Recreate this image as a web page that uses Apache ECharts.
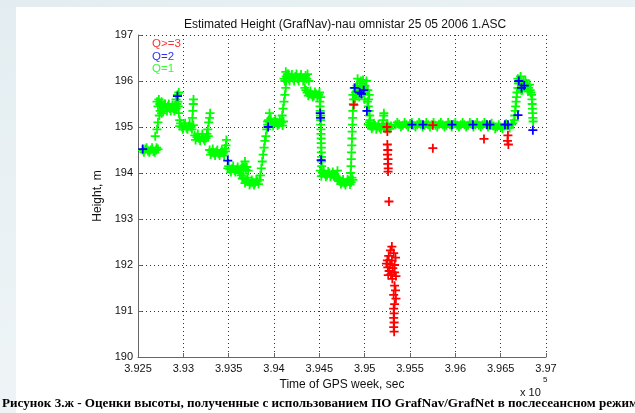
<!DOCTYPE html>
<html>
<head>
<meta charset="utf-8">
<script src="https://cdn.jsdelivr.net/npm/echarts@6/dist/echarts.min.js"></script>
<style>
  html, body { margin: 0; padding: 0; }
  body { width: 635px; height: 413px; position: relative; overflow: hidden;
         background: linear-gradient(160deg, #e3edf1 0%, #eef4f6 60%, #e6eff3 100%); }
  #panel { position: absolute; left: 16px; top: 7px; width: 619px; height: 406px; background: #ffffff; }
  #chart { position: absolute; left: 0; top: 0; width: 635px; height: 413px; }
</style>
</head>
<body>
<div id="panel"></div>
<div id="chart"></div>
<script>
// Time of GPS week (s) and estimated height (m), grouped by solution quality
const titleText = 'Estimated Height (GrafNav)-nau omnistar 25 05 2006 1.ASC';
const xAxisName = 'Time of GPS week, sec';
const yAxisName = 'Height, m';
const qualityLabels = ['Q>=3', 'Q=2', 'Q=1'];
const captionText = 'Рисунок 3.ж - Оценки высоты, полученные с использованием ПО GrafNav/GrafNet в послесеансном режиме';

// Q=1 (green)
const heightQ1 = [
  // 194.5 m block
  [392550,194.5],[392580,194.52],[392610,194.48],[392640,194.5],[392670,194.47],[392700,194.5],[392720,194.52],
  [392565,194.45],[392595,194.55],[392625,194.45],[392655,194.55],[392685,194.45],[392705,194.55],
  [392690,194.8],[392710,194.95],[392720,195.1],[392735,195.25],[392745,195.35],
  // 195.45 m block
  [392710,195.55],[392730,195.6],[392750,195.5],[392770,195.45],[392790,195.5],[392810,195.42],[392830,195.45],
  [392850,195.4],[392870,195.43],[392890,195.4],[392910,195.45],[392930,195.5],[392945,195.45],
  [392720,195.45],[392740,195.5],[392760,195.55],[392780,195.4],[392800,195.5],[392820,195.35],[392840,195.5],
  [392860,195.35],[392880,195.48],[392900,195.35],[392920,195.4],[392940,195.55],
  [392760,195.3],[392780,195.35],
  [392920,195.6],[392935,195.7],[392950,195.75],[392950,195.3],[392960,195.15],
  // 195.0 m block
  [392960,195.02],[392985,195.0],[393010,195.03],[393035,194.98],[393060,195.02],[393085,195.0],[393110,195.04],
  [392970,195.08],[392995,194.95],[393020,195.08],[393045,194.95],[393070,195.08],[393095,194.95],
  [393100,195.2],[393105,195.35],[393110,195.5],[393112,195.6],
  // 194.78 m block
  [393125,194.82],[393150,194.78],[393175,194.75],[393200,194.78],[393225,194.74],[393250,194.76],[393275,194.8],
  [393135,194.72],[393160,194.85],[393185,194.7],[393210,194.85],[393235,194.7],[393260,194.85],
  [393270,194.95],[393280,195.1],[393290,195.2],[393295,195.3],
  // 194.45 m block
  [393290,194.5],[393315,194.45],[393340,194.43],[393365,194.46],[393390,194.42],[393415,194.45],[393440,194.44],[393465,194.47],
  [393300,194.4],[393325,194.52],[393350,194.38],[393375,194.5],[393400,194.38],[393425,194.5],[393450,194.38],[393460,194.53],
  [393470,194.6],[393475,194.72],
  // 194.08 m block
  [393490,194.1],[393515,194.08],[393540,194.1],[393565,194.06],[393590,194.08],[393615,194.05],[393640,194.1],
  [393665,194.12],[393690,194.07],[393715,194.05],[393680,194.25],
  [393500,194.15],[393525,194.02],[393550,194.15],[393575,194.02],[393600,194.13],[393625,194.0],[393650,194.15],[393700,194.13],
  // 193.83 m block
  [393640,193.95],[393665,193.9],[393690,193.85],[393715,193.82],[393740,193.78],[393765,193.8],[393790,193.78],
  [393815,193.82],[393840,193.85],
  [393650,193.88],[393680,193.78],[393705,193.9],[393730,193.74],[393755,193.85],[393780,193.74],[393805,193.86],[393830,193.76],
  [393850,193.95],[393860,194.1],[393870,194.25],[393880,194.4],[393890,194.55],[393900,194.7],[393910,194.8],
  [393920,194.95],[393930,195.05],[393940,195.15],
  // 195.1 m block
  [393930,195.12],[393955,195.1],[393980,195.08],[394005,195.12],[394030,195.1],[394055,195.06],[394080,195.1],
  [394105,195.12],[393950,195.3],
  [393940,195.05],[393965,195.18],[393990,195.02],[394015,195.17],[394040,195.03],[394065,195.15],[394095,195.03],
  [394090,195.25],[394100,195.4],[394110,195.55],[394120,195.7],[394130,195.85],[394135,196.0],
  // 196.07 m block
  [394110,196.05],[394135,196.1],[394160,196.05],[394185,196.08],[394210,196.06],[394235,196.1],[394260,196.05],
  [394285,196.08],[394310,196.07],[394335,196.05],[394360,196.05],[394385,196.0],
  [394120,196.0],[394148,196.15],[394172,196.0],[394198,196.14],[394222,196.0],[394248,196.15],[394272,196.0],
  [394298,196.14],[394322,196.0],[394348,196.12],
  [394130,196.2],[394160,196.15],[394370,196.15],
  // 195.72 m block
  [394340,195.85],[394365,195.75],[394390,195.72],[394415,195.7],[394440,195.68],[394465,195.72],[394490,195.7],[394515,195.65],
  [394352,195.8],[394378,195.68],[394402,195.78],[394428,195.65],[394452,195.76],[394478,195.65],[394502,195.75],
  [394505,195.55],[394508,195.45],[394510,195.35],[394512,195.25],[394515,195.15],[394515,195.05],[394518,194.95],
  [394518,194.85],[394520,194.75],[394520,194.65],[394522,194.55],[394522,194.45],[394524,194.35],[394524,194.25],[394526,194.15],
  // 193.97 m block
  [394510,194.05],[394535,194.0],[394560,193.98],[394585,193.95],[394610,194.0],[394635,193.97],[394660,193.95],
  [394685,193.93],[394700,194.05],
  [394522,193.93],[394548,194.05],[394572,193.92],[394598,194.03],[394622,193.92],[394648,194.02],[394672,193.9],
  // 193.82 m block
  [394700,193.85],[394725,193.82],[394750,193.8],[394775,193.78],[394800,193.8],[394825,193.83],[394850,193.8],[394870,193.85],
  [394712,193.9],[394738,193.76],[394762,193.86],[394788,193.74],[394812,193.86],[394838,193.75],[394860,193.9],
  [394845,194.0],[394850,194.15],[394852,194.3],[394855,194.45],[394858,194.6],[394860,194.75],[394862,194.9],
  [394865,195.05],[394868,195.2],[394870,195.35],[394875,195.5],
  // 195.8 m cluster
  [394870,195.7],[394885,195.85],[394900,195.75],[394915,195.9],[394930,195.8],[394945,195.95],[394960,196.0],
  [394975,195.85],[394990,195.75],[395005,195.9],[395020,196.0],[395035,195.8],[395050,195.7],[394895,195.6],[394940,195.65],
  [394878,195.6],[394908,195.7],[394922,196.05],[394952,195.85],[394968,195.9],[394982,196.02],[394998,195.6],[395012,195.8],[395042,195.6],
  [395030,195.55],[395040,195.45],[395050,195.35],[395055,195.25],[395060,195.15],
  // 195.02 m block
  [395040,195.05],[395065,195.02],[395090,195.0],[395115,195.03],[395140,195.0],[395165,194.98],[395190,195.02],
  [395215,195.0],[395240,195.03],[395265,195.0],[395290,195.02],
  [395052,195.1],[395078,194.96],[395102,195.08],[395128,194.95],[395152,195.06],[395178,194.95],[395202,195.07],
  [395228,194.96],[395252,195.07],[395278,194.96],
  [395205,195.15],[395210,195.25],[395212,195.3],
  // long 195.05 m block
  [395340,195.05],[395380,195.06],[395420,195.04],[395460,195.05],[395500,195.07],[395540,195.04],[395580,195.05],
  [395620,195.06],[395660,195.04],[395700,195.05],[395740,195.05],[395780,195.04],[395820,195.06],[395860,195.05],
  [395900,195.04],[395940,195.05],[395980,195.06],[396020,195.04],[396060,195.05],[396100,195.05],[396140,195.04],
  [396180,195.06],[396220,195.05],[396260,195.04],[396300,195.05],[396340,195.06],[396380,195.04],[396420,195.02],
  [396460,195.0],[396500,195.0],[396540,195.02],[396580,195.03],[396620,195.05],
  [395360,195.1],[395400,195.0],[395440,195.1],[395480,195.0],[395520,195.1],[395560,195.0],[395600,195.1],
  [395640,195.0],[395680,195.1],[395720,195.0],[395760,195.1],[395800,195.0],[395840,195.1],[395880,195.0],
  [395920,195.1],[395960,195.0],[396000,195.1],[396040,195.0],[396080,195.1],[396120,195.0],[396160,195.1],
  [396200,195.0],[396240,195.1],[396280,195.0],[396320,195.1],[396360,195.0],[396400,195.08],[396440,194.96],
  [396480,195.05],[396520,194.96],[396560,195.07],[396600,194.98],[396635,195.08],
  [396650,195.15],[396655,195.25],[396660,195.35],[396665,195.45],[396670,195.55],[396675,195.65],[396680,195.75],
  [396690,195.85],[396695,195.95],
  // 195.9 m cluster
  [396690,196.05],[396705,195.95],[396720,196.1],[396735,195.9],[396750,196.0],[396765,195.85],[396780,195.95],
  [396795,195.9],[396810,195.85],[396825,195.8],[396700,195.85],[396740,195.8],
  [396712,196.02],[396728,195.8],[396758,195.92],[396772,196.02],[396802,195.78],[396818,195.92],[396832,195.75],
  [396840,195.7],[396845,195.6],[396848,195.5],[396850,195.4],[396852,195.3],[396855,195.2],[396858,195.12]
];

// Q=2 (blue)
const heightQ2 = [
  [392552,194.52],[392935,195.67],[393490,194.27],[393935,195.0],[394510,195.3],[394513,195.2],[394520,194.28],
  [394890,195.85],[394945,195.75],[394965,195.72],[394990,195.8],[395025,195.35],
  [395521,195.05],[395643,195.05],[395962,195.05],[396194,195.05],[396349,195.05],[396381,195.05],[396547,195.05],[396580,195.05],
  [396700,196.0],[396730,195.85],[396760,195.9],[396691,195.26],[396855,194.93]
];

// Q>=3 (red)
const heightQ3 = [
  [394880,195.48],
  [395245,195.0],[395250,194.9],
  [395250,194.62],[395255,194.5],[395252,194.4],[395258,194.3],[395255,194.2],[395260,194.1],[395258,194.03],
  [395268,193.38],
  [395300,192.4],[395285,192.32],[395320,192.26],[395265,192.2],[395340,192.16],[395250,192.1],[395300,192.1],
  [395240,192.03],[395280,192.02],[395330,192.0],[395255,191.95],[395310,191.93],[395270,191.87],[395330,191.84],
  [395290,191.8],[395345,191.76],[395305,191.7],[395260,191.78],
  [395330,191.55],[395340,191.45],[395320,191.35],[395345,191.27],[395330,191.15],[395320,191.05],[395325,190.95],
  [395320,190.85],[395325,190.75],[395320,190.65],[395325,190.55],
  [395752,195.04],[395752,194.54],[396316,194.74],[396580,194.82],[396575,194.7],[396585,194.62]
];

const plusPath = 'path://M3.6,0H5.4V3.6H9V5.4H5.4V9H3.6V5.4H0V3.6H3.6Z';
const sans = 'Liberation Sans, Arial, sans-serif';

const chart = echarts.init(document.getElementById('chart'), null, { renderer: 'canvas' });

function scatter(name, data, color) {
  return {
    name: name,
    type: 'scatter',
    data: data,
    symbol: plusPath,
    symbolSize: [9, 9],
    itemStyle: { color: color, opacity: 1 },
    emphasis: { disabled: true },
    animation: false
  };
}

chart.setOption({
  backgroundColor: 'transparent',
  animation: false,
  title: {
    text: titleText,
    left: 340, top: 14, textAlign: 'center',
    textStyle: { fontFamily: sans, fontSize: 12, fontWeight: 'normal', color: '#111' }
  },
  grid: { left: 138, right: 89, top: 35, bottom: 56, containLabel: false },
  xAxis: {
    type: 'value',
    min: 392500, max: 397000, interval: 500,
    name: xAxisName,
    nameLocation: 'middle', nameGap: 21,
    nameTextStyle: { fontFamily: sans, fontSize: 12, color: '#111' },
    axisLine: { show: true, onZero: false, lineStyle: { color: '#666', width: 1 } },
    axisTick: { show: true, inside: true, length: 4, lineStyle: { color: '#666' } },
    axisLabel: {
      fontFamily: sans, fontSize: 11, color: '#111', margin: 6,
      formatter: function (v) { return String(parseFloat((v / 1e5).toFixed(4))); }
    },
    splitLine: { show: true, lineStyle: { color: '#333', type: [1, 3], width: 1 } }
  },
  yAxis: {
    type: 'value',
    min: 190, max: 197, interval: 1,
    name: yAxisName,
    nameLocation: 'middle', nameGap: 29, nameRotate: 90,
    nameTextStyle: { fontFamily: sans, fontSize: 12, color: '#111' },
    axisLine: { show: true, onZero: false, lineStyle: { color: '#666', width: 1 } },
    axisTick: { show: true, inside: true, length: 4, lineStyle: { color: '#666' } },
    axisLabel: { fontFamily: sans, fontSize: 11, color: '#111', margin: 5 },
    splitLine: { show: true, lineStyle: { color: '#333', type: [1, 3], width: 1 } }
  },
  series: [
    scatter(qualityLabels[2], heightQ1, '#00ff00'),
    scatter(qualityLabels[1], heightQ2, '#0000ff'),
    scatter(qualityLabels[0], heightQ3, '#ff0000')
  ],
  graphic: [
    { type: 'text', left: 152, top: 38, style: { text: qualityLabels[0], fill: '#ff3030', font: '11.5px ' + sans } },
    { type: 'text', left: 152, top: 51, style: { text: qualityLabels[1], fill: '#3030ff', font: '11.5px ' + sans } },
    { type: 'text', left: 152, top: 63, style: { text: qualityLabels[2], fill: '#30ff30', font: '11.5px ' + sans } },
    { type: 'text', left: 520, top: 387, style: { text: 'x 10', fill: '#111', font: '11px ' + sans } },
    { type: 'text', left: 543, top: 376, style: { text: '5', fill: '#111', font: '8px ' + sans } },
    { type: 'text', left: 2, top: 397, style: { text: captionText, fill: '#000', font: 'bold 13.1px "Liberation Serif", "Times New Roman", serif' } }
  ]
});
</script>
</body>
</html>
